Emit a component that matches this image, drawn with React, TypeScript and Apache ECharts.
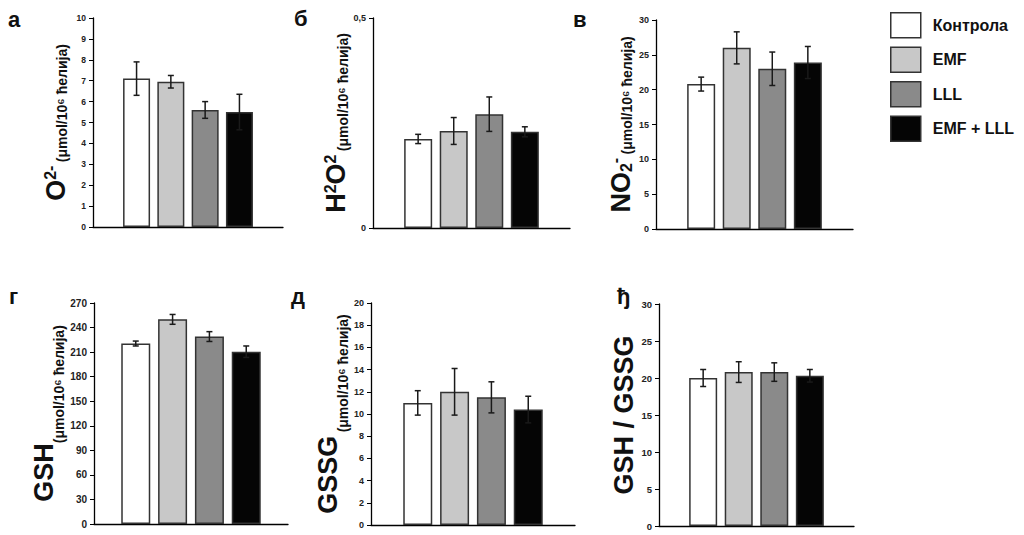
import React, { useEffect, useRef } from 'react';
import * as echarts from 'echarts';

const groups = ['Контрола', 'EMF', 'LLL', 'EMF + LLL'];

const o2Mean = [7.1, 6.95, 5.6, 5.5];
const o2Err = [0.8, 0.3, 0.4, 0.85];
const h2o2Mean = [0.212, 0.231, 0.271, 0.229];
const h2o2Err = [0.011, 0.032, 0.041, 0.012];
const no2Mean = [20.8, 26.0, 23.0, 23.9];
const no2Err = [1.0, 2.3, 2.4, 2.3];
const gshMean = [220.5, 250, 229, 210.5];
const gshErr = [3, 6, 6, 7];
const gssgMean = [11.0, 12.0, 11.5, 10.4];
const gssgErr = [1.1, 2.1, 1.4, 1.2];
const ratioMean = [20.0, 20.8, 20.8, 20.3];
const ratioErr = [1.15, 1.4, 1.25, 0.85];

const panelLetters = ['а', 'б', 'в', 'г', 'д', 'ђ'];
const unitText = '(μmol/10⁶ ћелија)';

const FONT = '"Liberation Sans", Arial, Helvetica, sans-serif';
const barColors = ['#ffffff', '#c8c8c8', '#8a8a8a', '#050505'];
const GAP = 0.27;

type Panel = {
  mean: number[]; err: number[]; max: number; interval: number; name: string;
  grid: { left: number; top: number; width: number; height: number };
  nameGap: number; barWidth: number; labelSize: number; comma?: boolean;
  letterPos: { left: number; top: number };
};

const panels: Panel[] = [
  { mean: o2Mean, err: o2Err, max: 10, interval: 1, name: `{big|O}{sup|2-} {unit|${unitText}}`,
    grid: { left: 93, top: 18, width: 190, height: 209 }, nameGap: 24, barWidth: 27, labelSize: 8.5,
    letterPos: { left: 8, top: 8 } },
  { mean: h2o2Mean, err: h2o2Err, max: 0.5, interval: 0.5, name: `{big|H}{sup|2}{big|O}{sup|2} {unit|${unitText}}`,
    grid: { left: 373, top: 18, width: 197, height: 210 }, nameGap: 19, barWidth: 28, labelSize: 9, comma: true,
    letterPos: { left: 294, top: 7 } },
  { mean: no2Mean, err: no2Err, max: 30, interval: 5, name: `{big|NO}{sub|2}{sup|-} {unit|${unitText}}`,
    grid: { left: 656, top: 20, width: 197, height: 209 }, nameGap: 22, barWidth: 28, labelSize: 9,
    letterPos: { left: 573, top: 8 } },
  { mean: gshMean, err: gshErr, max: 270, interval: 30, name: `{bigs|GSH}{unit|${unitText}}`,
    grid: { left: 94, top: 303, width: 194, height: 221 }, nameGap: 25, barWidth: 29, labelSize: 10,
    letterPos: { left: 9, top: 285 } },
  { mean: gssgMean, err: gssgErr, max: 20, interval: 2, name: `{bigs|GSSG} {unit|${unitText}}`,
    grid: { left: 371, top: 303, width: 204, height: 222 }, nameGap: 17, barWidth: 29, labelSize: 9,
    letterPos: { left: 291, top: 285 } },
  { mean: ratioMean, err: ratioErr, max: 30, interval: 5, name: `{big|GSH / GSSG}`,
    grid: { left: 659, top: 304, width: 195, height: 222 }, nameGap: 19, barWidth: 28, labelSize: 9.5,
    letterPos: { left: 617, top: 285 } },
];

function buildOption() {
  const grid: any[] = [];
  const xAxis: any[] = [];
  const yAxis: any[] = [];
  const series: any[] = [];
  const graphic: any[] = [];

  panels.forEach((p, i) => {
    grid.push({ ...p.grid, outerBoundsMode: 'none', containLabel: false });
    xAxis.push({
      type: 'category', gridIndex: i, data: [''],
      axisLine: { lineStyle: { color: '#000', width: 1.3 } },
      axisTick: { show: false }, axisLabel: { show: false }, splitLine: { show: false },
    });
    yAxis.push({
      type: 'value', gridIndex: i, min: 0, max: p.max, interval: p.interval,
      axisLine: { show: true, lineStyle: { color: '#000', width: 1.3 } },
      axisTick: { show: true, length: 4, lineStyle: { color: '#000', width: 1 } },
      splitLine: { show: false },
      axisLabel: {
        fontSize: p.labelSize, fontWeight: 'bold', color: '#222', fontFamily: FONT, margin: 7,
        formatter: p.comma ? (v: number) => String(v).replace('.', ',') : undefined,
      },
      name: p.name, nameLocation: 'middle', nameRotate: 90, nameGap: p.nameGap,
      nameTextStyle: {
        color: '#111', fontFamily: FONT,
        rich: {
          big: { fontSize: 27, fontWeight: 'bold', fontFamily: FONT, color: '#111', verticalAlign: 'bottom' },
          bigs: { fontSize: 27, fontWeight: 'bold', fontFamily: FONT, color: '#111', verticalAlign: 'bottom', padding: [0, 0, 9, 0] },
          sup: { fontSize: 16, fontWeight: 'bold', fontFamily: FONT, color: '#111', verticalAlign: 'top' },
          sub: { fontSize: 16, fontWeight: 'bold', fontFamily: FONT, color: '#111', verticalAlign: 'bottom' },
          unit: { fontSize: 14, fontWeight: 'bold', fontFamily: FONT, color: '#111', verticalAlign: 'bottom' },
        },
      },
    });
    groups.forEach((g, gi) => {
      series.push({
        type: 'bar', name: g, xAxisIndex: i, yAxisIndex: i,
        data: [p.mean[gi]], barWidth: p.barWidth, barGap: `${GAP * 100}%`,
        itemStyle: { color: barColors[gi], borderColor: '#333', borderWidth: 1.5 },
        emphasis: { disabled: true }, z: 2,
      });
    });
    const bw = p.barWidth;
    series.push({
      type: 'custom', name: `err${i}`, xAxisIndex: i, yAxisIndex: i, z: 10,
      data: p.mean.map((m, gi) => [0, m, p.err[gi], gi]),
      encode: { x: 0, y: 1 },
      renderItem: (params: any, api: any) => {
        const m = api.value(1) as number;
        const e = api.value(2) as number;
        const gi = api.value(3) as number;
        const base = api.coord([0, m]);
        const x = base[0] + (gi - 1.5) * bw * (1 + GAP);
        const yt = api.coord([0, m + e])[1];
        const yb = api.coord([0, m - e])[1];
        const cap = 3;
        const st = { stroke: '#1a1a1a', lineWidth: 1.5 };
        return {
          type: 'group',
          children: [
            { type: 'line', shape: { x1: x, y1: yt, x2: x, y2: yb }, style: st },
            { type: 'line', shape: { x1: x - cap, y1: yt, x2: x + cap, y2: yt }, style: st },
            { type: 'line', shape: { x1: x - cap, y1: yb, x2: x + cap, y2: yb }, style: st },
          ],
        };
      },
    });
    graphic.push({
      type: 'text', left: p.letterPos.left, top: p.letterPos.top,
      style: { text: panelLetters[i], font: `bold 22px ${FONT}`, fill: '#111' },
    });
  });

  return {
    animation: false,
    backgroundColor: '#fff',
    grid, xAxis, yAxis, series, graphic,
    legend: {
      data: groups, orient: 'vertical', left: 890, top: 12, padding: 0,
      itemWidth: 30, itemHeight: 25, itemGap: 8, icon: 'rect', selectedMode: false,
      itemStyle: { borderColor: '#333', borderWidth: 1.5 },
      textStyle: { fontSize: 16, fontWeight: 'bold', color: '#111', fontFamily: FONT, padding: [0, 0, 0, 7] },
    },
  };
}

export default function App() {
  const ref = useRef<HTMLDivElement>(null);
  useEffect(() => {
    if (!ref.current) return;
    const chart = echarts.init(ref.current, null, { renderer: 'svg' });
    chart.setOption(buildOption() as any);
    return () => chart.dispose();
  }, []);
  return <div ref={ref} style={{ position: 'absolute', left: 0, top: 0, width: 1024, height: 535 }} />;
}
